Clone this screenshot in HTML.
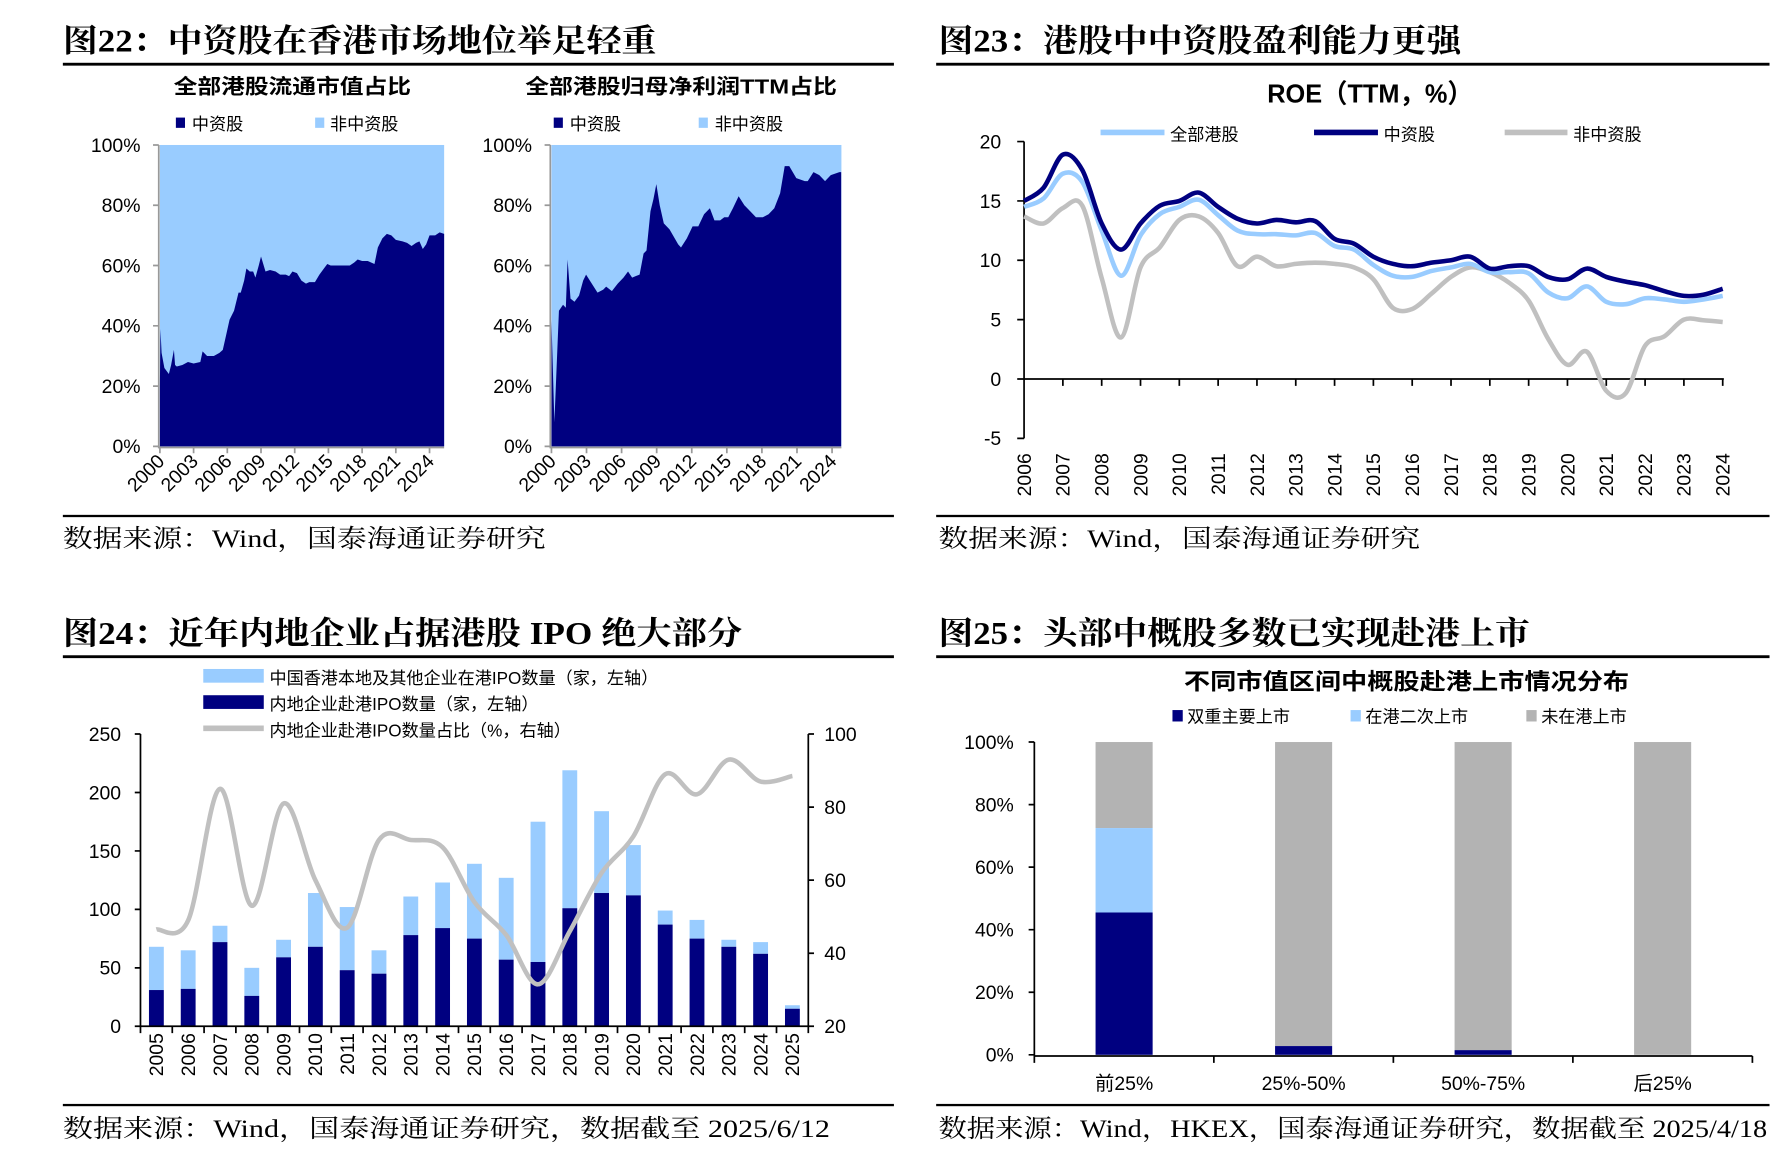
<!DOCTYPE html>
<html><head><meta charset="utf-8"><style>
html,body{margin:0;padding:0;background:#fff;}
svg{display:block;}
.t{font-family:"Liberation Serif","Noto Serif CJK SC",serif;font-weight:bold;font-size:28px;fill:#000;}
.ct{font-family:"Liberation Sans","Noto Sans CJK SC",sans-serif;font-weight:bold;fill:#000;}
.fn{font-family:"Liberation Serif","Noto Serif CJK SC",serif;font-size:22px;fill:#000;}
.lg{font-family:"Liberation Sans","Noto Sans CJK SC",sans-serif;font-size:15px;fill:#000;}
.tk{font-family:"Liberation Sans","Noto Sans CJK SC",sans-serif;font-size:17px;fill:#000;}
</style></head><body>
<svg id="root" width="1781" height="1153" viewBox="0 0 1560 1010" xmlns="http://www.w3.org/2000/svg">
<text class="t" x="55" y="45" textLength="520" lengthAdjust="spacingAndGlyphs">图22：中资股在香港市场地位举足轻重</text>
<rect x="55" y="55" width="728" height="2.5" fill="#000"/>
<rect x="55" y="451" width="728" height="2" fill="#000"/>
<text class="fn" x="55" y="479" textLength="423" lengthAdjust="spacingAndGlyphs">数据来源：Wind，国泰海通证券研究</text>

<text class="t" x="822" y="45" textLength="458" lengthAdjust="spacingAndGlyphs">图23：港股中中资股盈利能力更强</text>
<rect x="820" y="55" width="730" height="2.5" fill="#000"/>
<rect x="820" y="451" width="730" height="2" fill="#000"/>
<text class="fn" x="822" y="479" textLength="422" lengthAdjust="spacingAndGlyphs">数据来源：Wind，国泰海通证券研究</text>

<text class="t" x="55" y="564" textLength="595" lengthAdjust="spacingAndGlyphs">图24：近年内地企业占据港股 IPO 绝大部分</text>
<rect x="55" y="574" width="728" height="2.5" fill="#000"/>
<rect x="55" y="967" width="728" height="2" fill="#000"/>
<text class="fn" x="55" y="996" textLength="672" lengthAdjust="spacingAndGlyphs">数据来源：Wind，国泰海通证券研究，数据截至 2025/6/12</text>

<text class="t" x="822" y="564" textLength="518" lengthAdjust="spacingAndGlyphs">图25：头部中概股多数已实现赴港上市</text>
<rect x="820" y="574" width="730" height="2.5" fill="#000"/>
<rect x="820" y="967" width="730" height="2" fill="#000"/>
<text class="fn" x="822" y="996" textLength="726" lengthAdjust="spacingAndGlyphs">数据来源：Wind，HKEX，国泰海通证券研究，数据截至 2025/4/18</text>

<text class="ct" x="152" y="82" font-size="18" textLength="208" lengthAdjust="spacingAndGlyphs">全部港股流通市值占比</text>
<g>
<rect x="154" y="103" width="8" height="9" fill="#000080"/><text class="lg" x="168" y="114" font-size="17">中资股</text>
<rect x="276" y="103" width="8" height="9" fill="#99ccff"/><text class="lg" x="289" y="114" font-size="17">非中资股</text>
</g>
<text class="ct" x="460" y="82" font-size="18" textLength="273" lengthAdjust="spacingAndGlyphs">全部港股归母净利润TTM占比</text>
<g>
<rect x="485" y="103" width="8" height="9" fill="#000080"/><text class="lg" x="499" y="114" font-size="17">中资股</text>
<rect x="612" y="103" width="8" height="9" fill="#99ccff"/><text class="lg" x="626" y="114" font-size="17">非中资股</text>
</g>

<text class="ct" x="1110" y="90" font-size="23" textLength="180" lengthAdjust="spacingAndGlyphs">ROE（TTM，%）</text>
<g>
<line x1="964" y1="116" x2="1020" y2="116" stroke="#99ccff" stroke-width="5"/><text class="lg" x="1025" y="123" font-size="18">全部港股</text>
<line x1="1151" y1="116" x2="1207" y2="116" stroke="#000080" stroke-width="5"/><text class="lg" x="1212" y="123" font-size="18">中资股</text>
<line x1="1318" y1="116" x2="1373" y2="116" stroke="#c0c0c0" stroke-width="5"/><text class="lg" x="1378" y="123" font-size="18">非中资股</text>
</g>

<g>
<rect x="178" y="586" width="53" height="12" fill="#99ccff"/><text class="lg" x="236" y="599" font-size="18">中国香港本地及其他企业在港IPO数量（家，左轴）</text>
<rect x="178" y="609" width="53" height="12" fill="#000080"/><text class="lg" x="236" y="622" font-size="18">内地企业赴港IPO数量（家，左轴）</text>
<line x1="178" y1="638" x2="231" y2="638" stroke="#c0c0c0" stroke-width="5"/><text class="lg" x="236" y="645" font-size="18">内地企业赴港IPO数量占比（%，右轴）</text>
</g>

<text class="ct" x="1037" y="604" font-size="20" textLength="390" lengthAdjust="spacingAndGlyphs">不同市值区间中概股赴港上市情况分布</text>
<g>
<rect x="1027" y="622" width="9" height="10" fill="#000080"/><text class="lg" x="1040" y="633">双重主要上市</text>
<rect x="1183" y="622" width="9" height="10" fill="#99ccff"/><text class="lg" x="1196" y="633">在港二次上市</text>
<rect x="1337" y="622" width="9" height="10" fill="#b3b3b3"/><text class="lg" x="1350" y="633">未在港上市</text>
</g>

<g id="c1"></g><g id="c2"></g><g id="c3"></g><g id="c4"></g><g id="c5"></g>
</svg>
<script>
const mcYears = [2000,2000.05,2000.15,2000.4,2000.8,2001.0,2001.25,2001.35,2001.5,2002,2002.5,2003,2003.6,2003.8,2004.2,2004.8,2005.3,2005.6,2005.9,2006.2,2006.6,2007.0,2007.2,2007.5,2007.7,2008.0,2008.3,2008.5,2008.8,2009.0,2009.4,2009.8,2010.3,2010.7,2011.2,2011.5,2011.8,2012.2,2012.6,2013,2013.3,2013.8,2014.2,2014.6,2014.9,2015.2,2016,2016.9,2017.3,2017.6,2018,2018.5,2018.8,2019.1,2019.4,2019.8,2020.2,2020.6,2021,2021.6,2022,2022.4,2022.8,2023.1,2023.4,2023.7,2024,2024.5,2024.9,2025.3];
const mcShare = [20,39,31,26,24,27,32,27,26.5,27,28,27.5,28,31.5,30,30,31,32,37,42,45,51,51,55,59,58,58,56,60,63,58,58.5,58,57,57,56.5,58,57.5,55,54,54.5,54.5,57,59,60.5,60,60,60,61,62,61.5,61.5,61,60.5,66,69,70.5,70,68.5,68,67.5,66.5,67.5,68,65.5,67,70,70,71,70.5];
const npYears = [2000,2000.25,2000.64,2000.99,2001.23,2001.38,2001.63,2001.97,2002.36,2002.71,2002.96,2003.45,2003.94,2004.43,2004.68,2005.17,2005.67,2006.16,2006.55,2006.9,2007.54,2007.88,2008.13,2008.47,2008.72,2008.97,2009.26,2009.61,2010.1,2010.84,2011.08,2011.58,2012.07,2012.56,2013.05,2013.55,2013.94,2014.43,2014.78,2015.12,2015.52,2016.01,2016.5,2017.0,2017.49,2018.08,2018.57,2019.06,2019.56,2019.95,2020.34,2020.94,2021.67,2021.92,2022.41,2022.91,2023.4,2023.89,2024.63,2024.78];
const npShare = [42,8,45,47,46,62,49,48,50,55,57,54,51,52,53,51.5,54,56,58,56,57,64,65,78,82,87,80,74,72,67,66,69,73,73,77,79,75,75,76,76,79,83,80,78,76,76,77,79,84,93,93,89,88,88,91,90,88,90,91,91];
const pctTicks = ["0%","20%","40%","60%","80%","100%"];
const yearTicks = [2000,2003,2006,2009,2012,2015,2018,2021,2024];
const roeYears = [2006,2006.5,2007,2007.5,2008,2008.5,2009,2009.5,2010,2010.5,2011,2011.5,2012,2012.5,2013,2013.5,2014,2014.5,2015,2015.5,2016,2016.5,2017,2017.5,2018,2018.5,2019,2019.5,2020,2020.5,2021,2021.5,2022,2022.5,2023,2023.5,2024];
const roeAll = [14.5,15.2,17.3,16.6,12.5,8.7,12.1,13.9,14.5,15.1,13.8,12.5,12.2,12.2,12.1,12.3,11.2,10.9,9.6,8.7,8.6,9.1,9.4,9.7,9.0,9.0,8.9,7.3,6.8,7.8,6.5,6.3,6.8,6.7,6.5,6.7,7.0];
const roeChina = [15.0,16.1,18.9,17.6,13.1,10.9,13.1,14.6,15.0,15.7,14.5,13.5,13.1,13.4,13.2,13.3,11.8,11.4,10.3,9.7,9.5,9.8,10.0,10.3,9.3,9.5,9.5,8.6,8.4,9.3,8.6,8.2,7.9,7.4,7.0,7.1,7.6];
const roeOther = [13.7,13.1,14.4,14.6,8.5,3.5,9.4,11.1,13.4,13.7,12.3,9.5,10.3,9.5,9.7,9.8,9.7,9.4,8.4,6.0,5.9,7.2,8.6,9.4,9.0,8.1,6.6,3.4,1.2,2.3,-1.0,-1.2,2.8,3.6,5.0,4.95,4.8];
const roeTicks = [-5,0,5,10,15,20];
const roeYearLabels = [2006,2007,2008,2009,2010,2011,2012,2013,2014,2015,2016,2017,2018,2019,2020,2021,2022,2023,2024];
const ipoYears = ["2005","2006","2007","2008","2009","2010","2011","2012","2013","2014","2015","2016","2017","2018","2019","2020","2021","2022","2023","2024","2025"];
const ipoTotal = [68,65,86,50,74,114,102,65,111,123,139,127,175,219,184,155,99,91,74,72,18];
const ipoMainland = [31,32,72,26,59,68,48,45,78,84,75,57,55,101,114,112,87,75,68,62,15];
const ipoRatio = [46.5,49,85,53,81,60,47,71,71,69,54,45,31.5,46,62,72,89,83.5,93,87,88.5];
const ipoLeftTicks = [0,50,100,150,200,250];
const ipoRightTicks = [20,40,60,80,100];
const lstCats = ["前25%","25%-50%","50%-75%","后25%"];
const lstDual = [45.5,2.8,1.5,0];
const lstSecondary = [27,0,0,0];
const lstTicks = [0,20,40,60,80,100];

const NS = "http://www.w3.org/2000/svg";
function mk(tag, parent){ const e=document.createElementNS(NS,tag); parent.appendChild(e); return e; }
function lin(d0,d1,r0,r1){ return v => r0 + (v-d0)/(d1-d0)*(r1-r0); }
function smooth(pts){
  let d = "M"+pts[0][0].toFixed(2)+","+pts[0][1].toFixed(2);
  for(let i=0;i<pts.length-1;i++){
    const p0=pts[Math.max(0,i-1)],p1=pts[i],p2=pts[i+1],p3=pts[Math.min(pts.length-1,i+2)];
    const c1=[p1[0]+(p2[0]-p0[0])/6,p1[1]+(p2[1]-p0[1])/6];
    const c2=[p2[0]-(p3[0]-p1[0])/6,p2[1]-(p3[1]-p1[1])/6];
    d+=" C"+c1.join(",")+" "+c2.join(",")+" "+p2.join(",");
  }
  return d;
}
function txt(parent,x,y,s,anchor,cls,rot){
  const t=mk("text",parent); t.setAttribute("x",x); t.setAttribute("y",y);
  t.setAttribute("class",cls||"tk"); t.setAttribute("text-anchor",anchor||"start");
  if(rot) t.setAttribute("transform","rotate("+rot+" "+x+" "+y+")");
  t.textContent=s; return t;
}

function areaChart(g, years, vals, x0, x1, dmax, name){
  const X=lin(2000,dmax,x0,x1), Y=lin(0,100,391,127);
  const bg=mk("rect",g);
  
  
  bg.setAttribute("x",x0); bg.setAttribute("y",Y(100)); bg.setAttribute("width",x1-x0); bg.setAttribute("height",Y(0)-Y(100)); bg.setAttribute("fill","#99ccff");
  let d="M"+X(years[0])+","+Y(0);
  years.forEach((yr,i)=>{ d+=" L"+X(yr).toFixed(2)+","+Y(vals[i]).toFixed(2); });
  d+=" L"+X(years[years.length-1])+","+Y(0)+" Z";
  const p=mk("path",g);
  
  
  p.setAttribute("d",d); p.setAttribute("fill","#000080");
  const ax=mk("path",g);
  
  
  let ad="M"+(x0-1)+","+Y(100)+" V"+(Y(0)+1)+" H"+x1;
  pctTicks.forEach((s,i)=>{ const y=Y(i*20); ad+=" M"+(x0-6)+","+y+" H"+(x0-1); });
  yearTicks.forEach(yr=>{ ad+=" M"+X(yr)+","+Y(0)+" v6"; });
  ax.setAttribute("d",ad); ax.setAttribute("stroke","#999"); ax.setAttribute("stroke-width","1.5"); ax.setAttribute("fill","none");
  pctTicks.forEach((s,i)=>{
    const t=txt(g,x0-17,Y(i*20)+6,s,"end");
    
    
  });
  yearTicks.forEach(yr=>{
    const t=txt(g,X(yr)+5,Y(0)+14,String(yr),"end","tk",-45);
    t.setAttribute("font-size","15");
    
    
  });
}
areaChart(document.getElementById("c1"), mcYears, mcShare, 140, 389, 2025.3, "market-cap");
areaChart(document.getElementById("c2"), npYears, npShare, 483, 737, 2024.8, "profit");

(function(){
  const g=document.getElementById("c3");
  const X=lin(2006,2024,897,1509), Y=lin(0,20,332,124);
  const ax=mk("path",g);
  
  
  let d="M897,"+Y(20)+" V"+Y(-5)+" M897,"+Y(0)+" H1510";
  roeTicks.forEach(v=>{ d+=" M891,"+Y(v)+" H897"; });
  roeYearLabels.forEach(yr=>{ d+=" M"+X(yr)+","+Y(0)+" v6"; });
  ax.setAttribute("d",d); ax.setAttribute("stroke","#000"); ax.setAttribute("stroke-width","1.5"); ax.setAttribute("fill","none");
  roeTicks.forEach(v=>{
    const t=txt(g,877,Y(v)+6,String(v),"end");
    
    
  });
  roeYearLabels.forEach(yr=>{
    const t=txt(g,X(yr)+6,397,String(yr),"end","tk",-90);
    
    
  });
  [[roeOther,"#c0c0c0","roe-line-non-chinese"],[roeAll,"#99ccff","roe-line-all-hk"],[roeChina,"#000080","roe-line-chinese"]].forEach(s=>{
    const p=mk("path",g);
    
    
    p.setAttribute("d",smooth(roeYears.map((yr,i)=>[X(yr),Y(s[0][i])])));
    p.setAttribute("stroke",s[1]); p.setAttribute("stroke-width","4"); p.setAttribute("fill","none"); p.setAttribute("stroke-linejoin","round");
  });
})();

(function(){
  const g=document.getElementById("c4");
  const x0=123,x1=708,n=ipoYears.length,bw=(x1-x0)/n;
  const YL=lin(0,250,899,643), YR=lin(20,100,899,643);
  const XC=i=>x0+bw*(i+0.5);
  ipoYears.forEach((yr,i)=>{
    const w=13;
    const r1=mk("rect",g);
    
    
    r1.setAttribute("x",XC(i)-w/2); r1.setAttribute("y",YL(ipoTotal[i])); r1.setAttribute("width",w); r1.setAttribute("height",YL(ipoMainland[i])-YL(ipoTotal[i])); r1.setAttribute("fill","#99ccff");
    const r2=mk("rect",g);
    
    
    r2.setAttribute("x",XC(i)-w/2); r2.setAttribute("y",YL(ipoMainland[i])); r2.setAttribute("width",w); r2.setAttribute("height",YL(0)-YL(ipoMainland[i])); r2.setAttribute("fill","#000080");
    const t=txt(g,XC(i)+6,905,yr,"end","tk",-90);
    t.setAttribute("font-size","16");
    
    
  });
  const ln=mk("path",g);
  
  
  ln.setAttribute("d",smooth(ipoRatio.map((v,i)=>[XC(i),YR(v)])));
  ln.setAttribute("stroke","#c0c0c0"); ln.setAttribute("stroke-width","4"); ln.setAttribute("fill","none");
  const ax=mk("path",g);
  
  
  let d="M"+x0+",643 V899 H"+x1+" V643";
  ipoLeftTicks.forEach(v=>{ d+=" M"+(x0-5)+","+YL(v)+" H"+x0; });
  ipoRightTicks.forEach(v=>{ d+=" M"+x1+","+YR(v)+" h5"; });
  for(let i=0;i<=n;i++){ d+=" M"+(x0+bw*i)+",899 v6"; }
  ax.setAttribute("d",d); ax.setAttribute("stroke","#000"); ax.setAttribute("stroke-width","1.5"); ax.setAttribute("fill","none");
  ipoLeftTicks.forEach(v=>{
    const t=txt(g,106,YL(v)+6,String(v),"end");
    
    
  });
  ipoRightTicks.forEach(v=>{
    const t=txt(g,722,YR(v)+6,String(v),"start");
    
    
  });
})();

(function(){
  const g=document.getElementById("c5");
  const x0=906,x1=1535,n=lstCats.length,bw=(x1-x0)/n;
  const Y=lin(0,100,924,650);
  const XC=i=>x0+bw*(i+0.5);
  lstCats.forEach((c,i)=>{
    const w=50, a=lstDual[i], b=lstSecondary[i];
    const r3=mk("rect",g);
    
    
    r3.setAttribute("x",XC(i)-w/2); r3.setAttribute("y",Y(100)); r3.setAttribute("width",w); r3.setAttribute("height",Y(a+b)-Y(100)); r3.setAttribute("fill","#b3b3b3");
    const r2=mk("rect",g);
    
    
    r2.setAttribute("x",XC(i)-w/2); r2.setAttribute("y",Y(a+b)); r2.setAttribute("width",w); r2.setAttribute("height",Y(a)-Y(a+b)); r2.setAttribute("fill","#99ccff");
    const r1=mk("rect",g);
    
    
    r1.setAttribute("x",XC(i)-w/2); r1.setAttribute("y",Y(a)); r1.setAttribute("width",w); r1.setAttribute("height",Y(0)-Y(a)); r1.setAttribute("fill","#000080");
    const t=txt(g,XC(i),955,c,"middle");
    
    
  });
  const ax=mk("path",g);
  
  
  let d="M"+x0+",650 V925 H"+x1;
  lstTicks.forEach(v=>{ d+=" M"+(x0-5)+","+Y(v)+" H"+x0; });
  for(let i=0;i<=n;i++){ d+=" M"+(x0+bw*i)+",925 v6"; }
  ax.setAttribute("d",d); ax.setAttribute("stroke","#000"); ax.setAttribute("stroke-width","1.5"); ax.setAttribute("fill","none");
  lstTicks.forEach(v=>{
    const t=txt(g,888,Y(v)+6,v+"%","end");
    
    
  });
})();
</script>
</body></html>
